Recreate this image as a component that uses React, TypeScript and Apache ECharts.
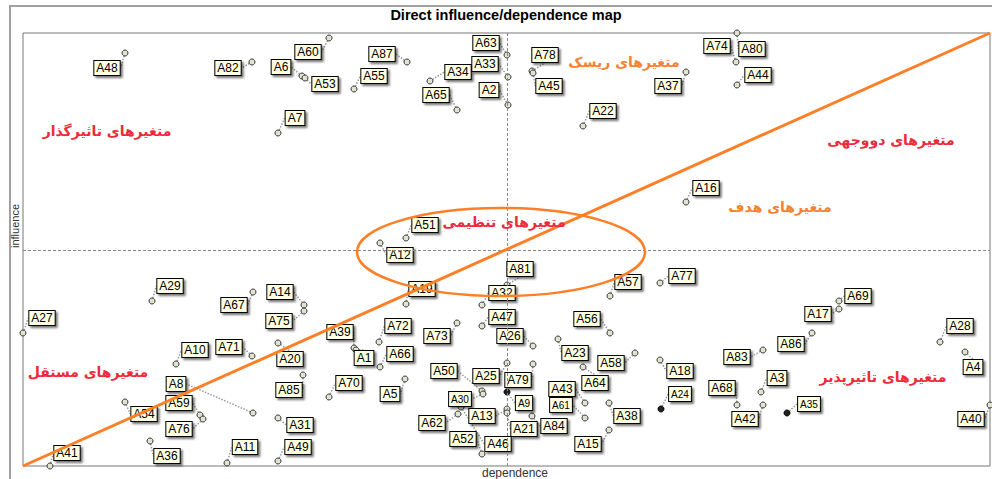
import React, { useEffect, useRef } from "react";
import * as echarts from "echarts";

const NAMES = [
  "A48", "A82", "A60", "A6", "A53", "A87", "A55", "A34", "A65", "A63",
  "A33", "A2", "A7", "A78", "A45", "A37", "A22", "A74", "A80", "A44",
  "A29", "A67", "A27", "A51", "A12", "A14", "A75", "A19", "A32", "A73",
  "A47", "A16", "A81", "A57", "A77", "A56", "A69", "A17", "A28", "A10",
  "A71", "A8", "A59", "A76", "A54", "A36", "A41", "A11", "A39", "A72",
  "A1", "A66", "A20", "A85", "A70", "A5", "A49", "A31", "A50", "A25",
  "A30", "A62", "A13", "A52", "A46", "A26", "A23", "A58", "A18", "A83",
  "A79", "A64", "A43", "A61", "A9", "A21", "A84", "A38", "A15", "A24",
  "A68", "A86", "A3", "A42", "A35", "A4", "A40",
];

const DEPENDENCE = [
  102, 229, 306, 279, 282, 384, 331, 407, 434, 484,
  485, 485, 255, 509, 510, 663, 560, 713, 714, 714,
  129, 230, 0, 383, 357, 281, 281, 383, 459, 434,
  459, 663, 484, 587, 637, 587, 816, 816, 917, 153,
  229, 230, 177, 180, 102, 127, 27, 204, 331, 356,
  333, 357, 255, 280, 306, 382, 255, 255, 459, 484,
  460, 435, 484, 459, 438, 510, 535, 612, 637, 740,
  510, 560, 562, 562, 484, 484, 509, 586, 586, 638,
  714, 789, 738, 740, 764, 942, 967,
];

const INFLUENCE = [
  413, 404, 428, 390, 388, 404, 377, 385, 356, 411,
  389, 361, 333, 395, 393, 394, 340, 404, 433, 381,
  165, 174, 133, 228, 223, 161, 155, 162, 161, 143,
  140, 264, 181, 170, 183, 133, 165, 157, 124, 102,
  110, 53, 51, 47, 64, 25, 0, 3, 118, 124,
  116, 99, 123, 91, 69, 87, 5, 48, 75, 103,
  72, 52, 57, 12, 59, 120, 127, 113, 106, 116,
  102, 99, 63, 48, 74, 53, 50, 63, 36, 57,
  61, 133, 74, 61, 53, 114, 61,
];

// label offsets (pixels) from each point to its tag
const LABEL_DX = [
  -18, -24, -21, -21, 20, -25, 20, 28, -21, -21,
  -23, -19, 17, 13, 16, -18, 20, -19, 15, 21,
  18, -19, 19, 19, 20, -24, -25, 16, 20, -20,
  20, 20, 13, 18, 22, -23, 19, -21, 20, 19,
  -23, -77, -21, -24, 19, 17, 17, 18, -14, 19,
  8, 20, 12, -14, 20, -15, 20, 22, -38, -21,
  -23, -26, -25, -19, 37, -23, 17, -24, 20, -26,
  -15, 12, -23, -24, 17, 17, 22, 18, -21, 19,
  -15, -21, 16, -18, 22, 8, -19,
];

const LABEL_DY = [
  15, 6, 14, -9, 6, -8, -13, -9, -15, -12,
  -13, -15, -15, -16, 13, 14, -15, -16, 16, -10,
  -15, 13, -15, -13, 12, -13, 10, -15, -12, 13,
  -9, -14, -16, -14, -7, -14, -5, 5, -16, -14,
  -9, -29, -12, 10, 12, 15, -13, -16, -16, -16,
  8, -13, 16, 15, -14, 15, -14, 7, -20, 13,
  5, 9, 7, -15, 37, -10, 14, 10, 11, 7,
  16, 16, -14, -13, 11, 16, 10, 13, 14, -15,
  -17, 11, -14, 14, -9, 15, 14,
];

const SMALL_LABELS = ["A30", "A9", "A61", "A24", "A35"];
const DARK_DOTS = ["A9", "A24", "A35"];

const DEP_MAX = 967;
const INF_MAX = 433;
const DEP_MEAN = 484;
const INF_MEAN = 216;

const ZONE_TEXTS = ["متغیرهای تاثیرگذار", "متغیرهای ریسک", "متغیرهای دووجهی", "متغیرهای هدف", "متغیرهای تنظیمی", "متغیرهای مستقل", "متغیرهای تاثیرپذیر"];
const ZONE_DEP = [84, 601, 868, 757, 481, 65, 860];
const ZONE_INF = [335, 404, 326, 259, 244, 94, 89];
const ZONE_COLORS = ["#ee2a3a", "#f58232", "#ee2a3a", "#f58232", "#ee2a3a", "#ee2a3a", "#ee2a3a"];

const ELLIPSE_CENTER = [478, 214];

export default function App() {
  const ref = useRef<HTMLDivElement>(null);

  useEffect(() => {
    if (!ref.current) return;
    const chart = echarts.init(ref.current, undefined, { renderer: "svg" });

    const points = NAMES.map((n, i) => {
      const small = SMALL_LABELS.includes(n);
      const dark = DARK_DOTS.includes(n);
      return {
        name: n,
        value: [DEPENDENCE[i], INFLUENCE[i]],
        itemStyle: dark ? { color: "#222", borderColor: "#000" } : undefined,
        label: small ? { fontSize: 10, lineHeight: 12, padding: [1, 2, 1, 2] } : undefined,
      };
    });

    chart.setOption({
      animation: false,
      backgroundColor: "#fff",
      grid: {
        left: 23,
        top: 33,
        right: 2,
        bottom: 13,
        show: true,
        borderColor: "#777",
        borderWidth: 1,
        backgroundColor: "#fff",
      },
      xAxis: {
        type: "value",
        min: 0,
        max: DEP_MAX,
        axisLine: { show: false },
        axisTick: { show: false },
        axisLabel: { show: false },
        splitLine: { show: false },
      },
      yAxis: {
        type: "value",
        min: 0,
        max: INF_MAX,
        axisLine: { show: false },
        axisTick: { show: false },
        axisLabel: { show: false },
        splitLine: { show: false },
      },
      series: [
        {
          type: "scatter",
          data: [],
          z: 1,
          markLine: {
            silent: true,
            symbol: "none",
            label: { show: false },
            lineStyle: { color: "#888", type: [3, 2], width: 1 },
            data: [{ xAxis: DEP_MEAN }, { yAxis: INF_MEAN }],
          },
        },
        {
          type: "scatter",
          z: 2,
          symbol: "circle",
          symbolSize: 6,
          clip: false,
          itemStyle: { color: "#dfe3cf", borderColor: "#333", borderWidth: 1, opacity: 1 },
          data: points,
          label: {
            show: true,
            position: "inside",
            formatter: "{b}",
            fontFamily: "Liberation Sans, Arial, sans-serif",
            fontSize: 12,
            lineHeight: 13,
            color: "#000",
            backgroundColor: "#ffffe1",
            borderColor: "#000",
            borderWidth: 1,
            padding: [1, 2, 0, 2],
            shadowColor: "rgba(0,0,0,0.55)",
            shadowBlur: 2,
            shadowOffsetX: 2,
            shadowOffsetY: 2,
          },
          labelLine: {
            show: true,
            lineStyle: { color: "#999", type: "dotted", width: 1.5 },
          },
          labelLayout: (p: any) => ({ dx: LABEL_DX[p.dataIndex], dy: LABEL_DY[p.dataIndex] }),
        },
        {
          type: "line",
          z: 5,
          symbol: "none",
          silent: true,
          lineStyle: { color: "#ff7f27", width: 3 },
          data: [
            [0, 0],
            [DEP_MAX, INF_MAX],
          ],
        },
      ],
    });

    const c = chart.convertToPixel({ gridIndex: 0 }, ELLIPSE_CENTER) as number[];
    const zones = ZONE_TEXTS.map((t, i) => {
      const p = chart.convertToPixel({ gridIndex: 0 }, [ZONE_DEP[i], ZONE_INF[i]]) as number[];
      return {
        type: "text",
        x: p[0],
        y: p[1],
        z: 20,
        style: {
          text: t,
          fill: ZONE_COLORS[i],
          font: "bold 14px 'DejaVu Sans', sans-serif",
          align: "center",
          verticalAlign: "middle",
        },
      };
    });

    chart.setOption({
      graphic: [
        {
          type: "rect",
          z: -1,
          silent: true,
          shape: { x: 10, y: 6, width: 1000, height: 500 },
          style: { fill: "none", stroke: "#a0a0a0", lineWidth: 2 },
        },
        {
          type: "text",
          x: 506,
          y: 15,
          style: {
            text: "Direct influence/dependence map",
            font: "bold 14.5px 'Liberation Sans', Arial, sans-serif",
            fill: "#000",
            align: "center",
            verticalAlign: "middle",
          },
        },
        {
          type: "text",
          x: 15,
          y: 226,
          rotation: Math.PI / 2,
          style: {
            text: "influence",
            font: "11px 'Liberation Sans', Arial, sans-serif",
            fill: "#333",
            align: "center",
            verticalAlign: "middle",
          },
        },
        {
          type: "text",
          x: 515,
          y: 473,
          style: {
            text: "dependence",
            font: "12px 'Liberation Sans', Arial, sans-serif",
            fill: "#333",
            align: "center",
            verticalAlign: "middle",
          },
        },
        {
          type: "ellipse",
          z: 15,
          silent: true,
          shape: { cx: c[0], cy: c[1], rx: 144, ry: 44 },
          style: { fill: "none", stroke: "#ff7f27", lineWidth: 2.5 },
        },
        ...zones,
      ],
    });

    return () => chart.dispose();
  }, []);

  return (
    <div
      ref={ref}
      style={{ position: "fixed", left: 0, top: 0, width: 992, height: 479, background: "#fff" }}
    />
  );
}
